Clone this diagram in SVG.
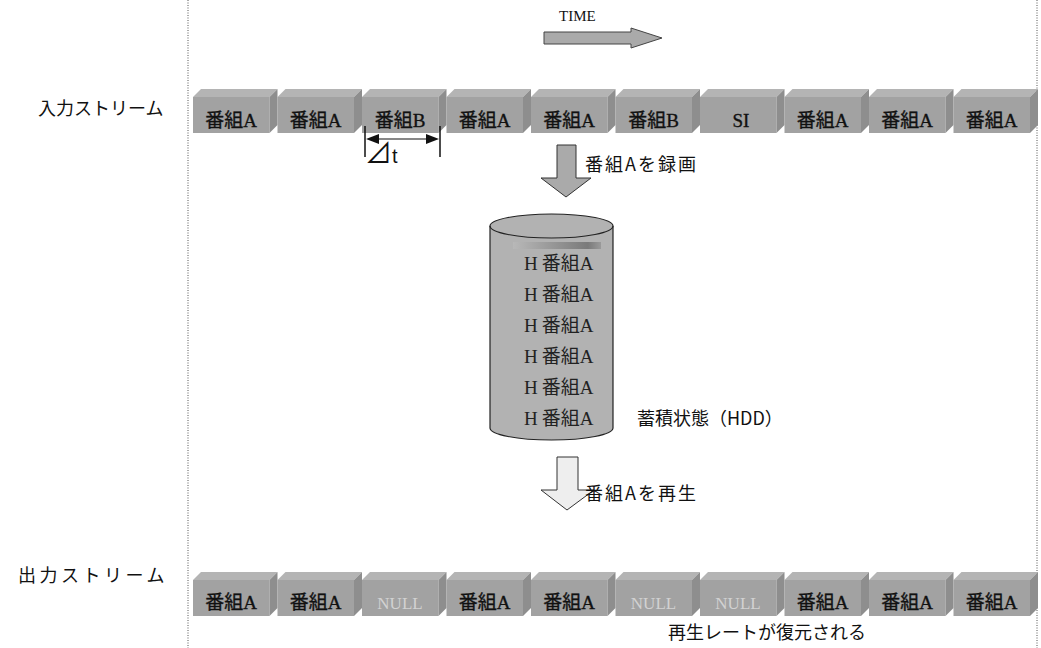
<svg xmlns="http://www.w3.org/2000/svg" width="1041" height="648" viewBox="0 0 1041 648">
<style>
.lbl{font-family:"Noto Sans CJK JP","Liberation Sans",sans-serif;font-size:18px;fill:#111}
.blk{font-family:"Liberation Serif","Noto Sans CJK JP",serif;font-size:19px;fill:#111;text-anchor:middle;stroke:#111;stroke-width:0.35}
.nul{fill:#d2d2d2;stroke:none;font-size:17px}
.front{fill:#a2a2a2}
.top{fill:#b4b4b4}
.side{fill:#8e8e8e}
.cyl{font-family:"Liberation Serif","Noto Sans CJK JP",serif;font-size:19px;fill:#222}
.dot{stroke:#555;stroke-width:1;stroke-dasharray:1 1.5;fill:none}
</style>
<defs>
<g id="box">
<polygon class="top" points="0,8 8,0 84.5,0 76.5,8"/>
<rect class="front" x="0" y="8" width="76.5" height="36"/>
<polygon class="side" points="76.5,8 84.5,0 84.5,36 76.5,44"/>
</g>
<linearGradient id="strip" x1="0" x2="1" y1="0" y2="0">
<stop offset="0" stop-color="#b8b8b8"/><stop offset="0.85" stop-color="#7a7a7a"/><stop offset="1" stop-color="#9a9a9a"/>
</linearGradient>
</defs>
<rect width="1041" height="648" fill="#fff"/>
<g id="frame">
<line class="dot" x1="188" y1="0" x2="188" y2="648"/>
<line class="dot" x1="1037" y1="0" x2="1037" y2="648"/>
</g>
<g id="time">
<text x="559" y="21" font-family="Liberation Serif,serif" font-size="15" fill="#111">TIME</text>
<polygon points="544,32 631,32 631,28 662,38 631,48 631,44 544,44" fill="#aaa" stroke="#444" stroke-width="1"/>
</g>
<text class="lbl" x="38" y="115">入力ストリーム</text>
<g id="input-stream">
<use href="#box" x="193" y="89"/><text class="blk" x="231" y="127">番組A</text>
<use href="#box" x="277.5" y="89"/><text class="blk" x="315.5" y="127">番組A</text>
<use href="#box" x="362" y="89"/><text class="blk" x="400" y="127">番組B</text>
<use href="#box" x="446.5" y="89"/><text class="blk" x="484.5" y="127">番組A</text>
<use href="#box" x="531" y="89"/><text class="blk" x="569" y="127">番組A</text>
<use href="#box" x="615.5" y="89"/><text class="blk" x="653.5" y="127">番組B</text>
<use href="#box" x="700" y="89"/><text class="blk" x="741" y="127" stroke="none">SI</text>
<use href="#box" x="784.5" y="89"/><text class="blk" x="822.5" y="127">番組A</text>
<use href="#box" x="869" y="89"/><text class="blk" x="907" y="127">番組A</text>
<use href="#box" x="953.5" y="89"/><text class="blk" x="991.5" y="127">番組A</text>
</g>
<g id="delta-t">
<line x1="365" y1="126" x2="365" y2="157" stroke="#111" stroke-width="1.5"/>
<line x1="440" y1="126" x2="440" y2="157" stroke="#111" stroke-width="1.5"/>
<line x1="375" y1="139" x2="430" y2="139" stroke="#111" stroke-width="1.2"/>
<polygon points="366,139 379,134 379,144" fill="#111"/>
<polygon points="439,139 426,134 426,144" fill="#111"/>
<text x="365" y="163" font-family="Noto Sans CJK JP,sans-serif" font-size="27" fill="#111">⊿<tspan font-family="Liberation Sans,sans-serif" font-size="20">t</tspan></text>
</g>
<g id="connectors">
<polygon points="557,145 576,145 576,178 591,178 566,197 541,178 557,178" fill="#aaa" stroke="#333" stroke-width="1"/>
<polygon points="557,457 578,457 578,490 594,490 567,510 541,490 557,490" fill="#eee" stroke="#333" stroke-width="1"/>
</g>
<text class="lbl" x="585" y="171" font-size="21" letter-spacing="2">番組Aを録画</text>
<g id="hdd">
<path d="M490,226 L490,428 A61.5,12 0 0 0 613,428 L613,226 A61.5,12 0 0 0 490,226 Z" fill="#b2b2b2" stroke="#222" stroke-width="1.2"/>
<path d="M490,226 A61.5,12 0 0 0 613,226" fill="none" stroke="#222" stroke-width="1.2"/>
<rect x="513" y="242" width="88" height="7" fill="url(#strip)"/>
<text class="cyl" x="524" y="270">H<tspan dx="4">番組A</tspan></text>
<text class="cyl" x="524" y="301">H<tspan dx="4">番組A</tspan></text>
<text class="cyl" x="524" y="332">H<tspan dx="4">番組A</tspan></text>
<text class="cyl" x="524" y="363">H<tspan dx="4">番組A</tspan></text>
<text class="cyl" x="524" y="394">H<tspan dx="4">番組A</tspan></text>
<text class="cyl" x="524" y="425">H<tspan dx="4">番組A</tspan></text>
</g>
<text class="lbl" x="637" y="425" font-size="20">蓄積状態（HDD）</text>
<text class="lbl" x="585" y="500" font-size="21" letter-spacing="2">番組Aを再生</text>
<text class="lbl" x="18" y="582" letter-spacing="3.5">出力ストリーム</text>
<g id="output-stream">
<use href="#box" x="193" y="572"/><text class="blk" x="231" y="609">番組A</text>
<use href="#box" x="277.5" y="572"/><text class="blk" x="315.5" y="609">番組A</text>
<use href="#box" x="362" y="572"/><text class="blk nul" x="400" y="609">NULL</text>
<use href="#box" x="446.5" y="572"/><text class="blk" x="484.5" y="609">番組A</text>
<use href="#box" x="531" y="572"/><text class="blk" x="569" y="609">番組A</text>
<use href="#box" x="615.5" y="572"/><text class="blk nul" x="653.5" y="609">NULL</text>
<use href="#box" x="700" y="572"/><text class="blk nul" x="738" y="609">NULL</text>
<use href="#box" x="784.5" y="572"/><text class="blk" x="822.5" y="609">番組A</text>
<use href="#box" x="869" y="572"/><text class="blk" x="907" y="609">番組A</text>
<use href="#box" x="953.5" y="572"/><text class="blk" x="991.5" y="609">番組A</text>
</g>
<text class="lbl" x="668" y="639" font-size="19">再生レートが復元される</text>
</svg>
